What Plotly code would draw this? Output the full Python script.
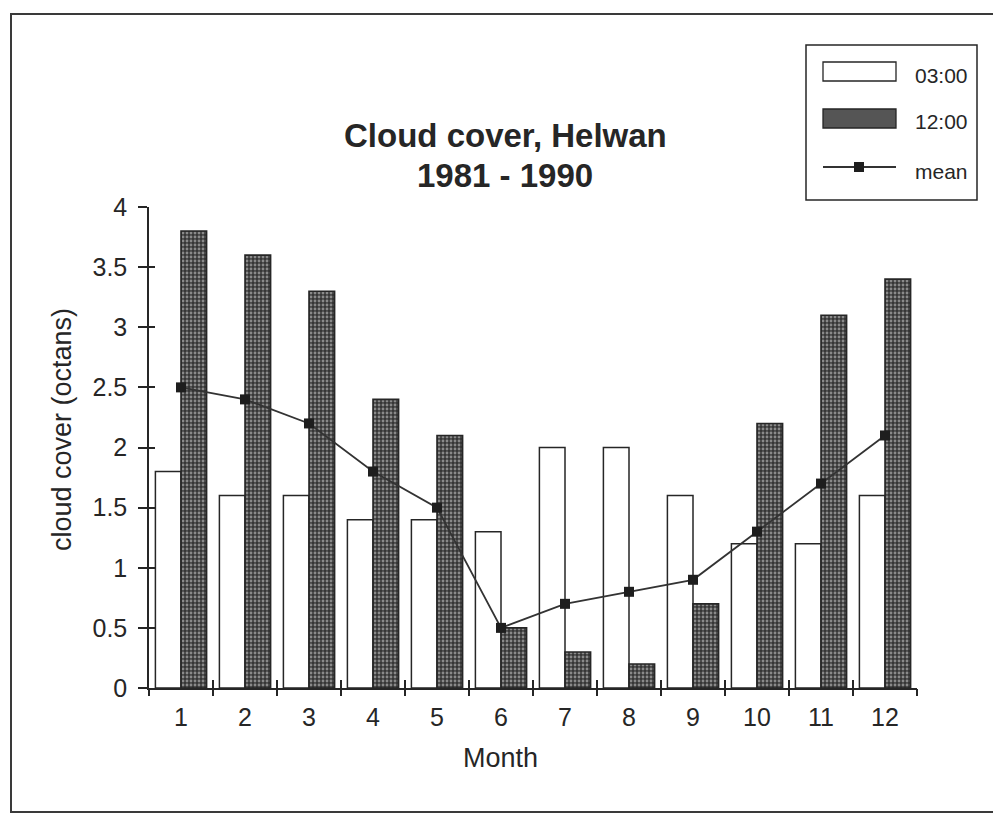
import plotly.graph_objects as go

# Monthly cloud cover at Helwan, 1981-1990 (octans)
months = [1, 2, 3, 4, 5, 6, 7, 8, 9, 10, 11, 12]
cover_0300 = [1.8, 1.6, 1.6, 1.4, 1.4, 1.3, 2.0, 2.0, 1.6, 1.2, 1.2, 1.6]
cover_1200 = [3.8, 3.6, 3.3, 2.4, 2.1, 0.5, 0.3, 0.2, 0.7, 2.2, 3.1, 3.4]
cover_mean = [2.5, 2.4, 2.2, 1.8, 1.5, 0.5, 0.7, 0.8, 0.9, 1.3, 1.7, 2.1]
y_ticks = [0, 0.5, 1, 1.5, 2, 2.5, 3, 3.5, 4]
series_names = ["03:00", "12:00", "mean"]

W, H = 993, 816
L, R, T, B = 149, 76, 207, 128
PW, PH = W - L - R, H - T - B

def px(x):
    return (x - L) / PW

def py(y):
    return (H - B - y) / PH

INK = "#262626"
FONT = "Liberation Sans, Arial, Helvetica, sans-serif"

bounds = [m - 0.5 for m in months] + [months[-1] + 0.5]

fig = go.Figure()
fig.add_trace(go.Bar(
    x=months, y=cover_0300, name=series_names[0],
    marker=dict(color="white", line=dict(color=INK, width=1.5)),
))
fig.add_trace(go.Bar(
    x=months, y=cover_1200, name=series_names[1],
    marker=dict(color="#3a3a3a", line=dict(color=INK, width=1.6),
                pattern=dict(shape=".", fgcolor="#dedede", bgcolor="#363636",
                             size=4, solidity=0.4)),
))
fig.add_trace(go.Scatter(
    x=months, y=cover_mean, name=series_names[2], mode="lines+markers",
    line=dict(color="#333333", width=1.8),
    marker=dict(symbol="square", size=10, color="#1e1e1e"),
))
# empty traces carrying the overlaid tick axes
fig.add_trace(go.Scatter(x=[], y=[], xaxis="x2", yaxis="y2"))
fig.add_trace(go.Scatter(x=[], y=[], xaxis="x3", yaxis="y2"))

axis_font = dict(family=FONT, size=25, color=INK)
rng_x = [0.5, 12.5]

fig.update_layout(
    width=W, height=H,
    margin=dict(l=L, r=R, t=T, b=B),
    paper_bgcolor="white", plot_bgcolor="white",
    barmode="group", bargap=0.2, bargroupgap=0,
    font=dict(family=FONT, color=INK),
    showlegend=False,
    xaxis=dict(range=rng_x, tickmode="array", tickvals=months,
               ticktext=[str(m) for m in months],
               ticks="outside", ticklen=6, tickcolor="rgba(0,0,0,0)",
               tickfont=axis_font, showline=True, linecolor=INK, linewidth=1.5,
               showgrid=False, zeroline=False, fixedrange=True),
    xaxis2=dict(range=rng_x, overlaying="x", anchor="y", tickmode="array",
                tickvals=bounds, ticks="outside", ticklen=7, tickwidth=1.5,
                tickcolor=INK, showticklabels=False, showline=False,
                showgrid=False, zeroline=False),
    xaxis3=dict(range=rng_x, overlaying="x", anchor="y", tickmode="array",
                tickvals=bounds, ticks="inside", ticklen=8, tickwidth=1.5,
                tickcolor=INK, showticklabels=False, showline=False,
                showgrid=False, zeroline=False),
    yaxis=dict(range=[0, 4], tickmode="array", tickvals=y_ticks,
               ticktext=[f"{v:g}" for v in y_ticks],
               ticks="outside", ticklen=9, tickwidth=1.5, tickcolor=INK,
               ticklabelstandoff=6,
               tickfont=axis_font, showline=True, linecolor=INK, linewidth=1.5,
               showgrid=False, zeroline=False, fixedrange=True),
    yaxis2=dict(range=[0, 4], overlaying="y", anchor="x", tickmode="array",
                tickvals=y_ticks, ticks="inside", ticklen=6, tickwidth=1.5,
                tickcolor=INK, showticklabels=False, showline=False,
                showgrid=False, zeroline=False),
)

shapes = []
# outer frame around the whole chart
shapes.append(dict(type="rect", xref="paper", yref="paper",
                   x0=px(11), x1=px(1010), y0=py(812), y1=py(14),
                   line=dict(color="#3a3a3a", width=2),
                   fillcolor="rgba(0,0,0,0)", layer="below"))

# key box with its three samples
shapes.append(dict(type="rect", xref="paper", yref="paper",
                   x0=px(806), x1=px(977), y0=py(200), y1=py(45),
                   line=dict(color=INK, width=1.5), fillcolor="white"))
shapes.append(dict(type="rect", xref="paper", yref="paper",
                   x0=px(823), x1=px(896), y0=py(81), y1=py(62),
                   line=dict(color=INK, width=1.3), fillcolor="white"))
shapes.append(dict(type="rect", xref="paper", yref="paper",
                   x0=px(823), x1=px(896), y0=py(128), y1=py(109),
                   line=dict(color=INK, width=1.3), fillcolor="#555555"))
shapes.append(dict(type="line", xref="paper", yref="paper",
                   x0=px(823), x1=px(896), y0=py(167), y1=py(167),
                   line=dict(color="#333333", width=1.8)))
shapes.append(dict(type="rect", xref="paper", yref="paper",
                   x0=px(854), x1=px(864), y0=py(172), y1=py(162),
                   line=dict(color="#1e1e1e", width=0), fillcolor="#1e1e1e"))
fig.update_layout(shapes=shapes)

for name, yc in zip(series_names, [75, 121, 172]):
    fig.add_annotation(text=name, xref="paper", yref="paper",
                       x=px(970), y=py(yc), xanchor="right", yanchor="middle",
                       showarrow=False,
                       font=dict(family=FONT, size=21, color=INK))

# title lines
fig.add_annotation(text="<b>Cloud cover, Helwan</b>", xref="paper", yref="paper",
                   x=px(505), y=py(136), xanchor="center", yanchor="middle",
                   showarrow=False, font=dict(family=FONT, size=33, color=INK))
fig.add_annotation(text="<b>1981 - 1990</b>", xref="paper", yref="paper",
                   x=px(505), y=py(176), xanchor="center", yanchor="middle",
                   showarrow=False, font=dict(family=FONT, size=33, color=INK))

# axis titles
fig.add_annotation(text="cloud cover (octans)", xref="paper", yref="paper",
                   x=px(62), y=py(430), xanchor="center", yanchor="middle",
                   textangle=-90, showarrow=False,
                   font=dict(family=FONT, size=27, color=INK))
fig.add_annotation(text="Month", xref="paper", yref="paper",
                   x=px(500), y=py(758), xanchor="center", yanchor="middle",
                   showarrow=False, font=dict(family=FONT, size=27, color=INK))

fig.write_html("out.html")
